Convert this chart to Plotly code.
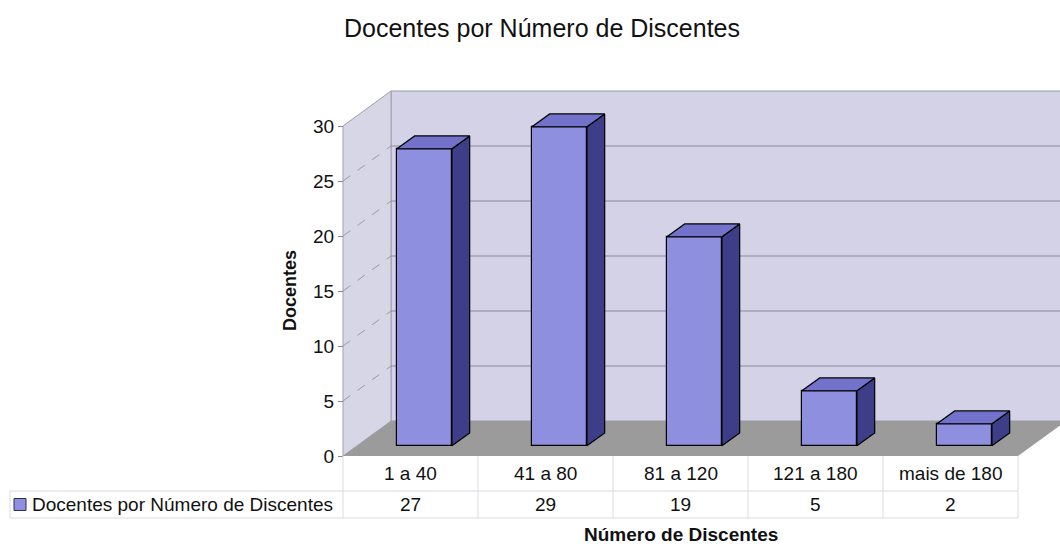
import plotly.graph_objects as go

# ---- data ----
categories = ["1 a 40", "41 a 80", "81 a 120", "121 a 180", "mais de 180"]
docentes = [27, 29, 19, 5, 2]
y_ticks = [0, 5, 10, 15, 20, 25, 30]
series_name = "Docentes por Número de Discentes"

# ---- geometry (category units on x, value units on y) ----
W, H = 1060, 546
PX_X = 135.0          # pixels per category
PX_Y = 11.0           # pixels per unit of value
X0_PX, Y0_PX = 343, 456   # front-left corner of the floor
x_range = [-X0_PX / PX_X, (W - X0_PX) / PX_X]
y_range = [-(H - Y0_PX) / PX_Y, Y0_PX / PX_Y]

DEPTH_X = 48 / PX_X   # full depth of the box
DEPTH_Y = 35 / PX_Y
BAR_F0 = 0.29         # front of bars as fraction of depth
BAR_F1 = 0.66
BAR_W = 55 / PX_X
YMAX = 30
n = len(categories)

FONT = "Liberation Sans, Arial, sans-serif"
WALL = "#d3d2e6"
SIDE_WALL = "#d7d6e6"
FLOOR = "#9b9b9b"
FRONT = "#8f8fe0"
TOP = "#7272ca"
SIDE = "#3e3e88"
GRID = "#8a8a96"
TABLE = "#dcdce4"
TXT = "#111"

fig = go.Figure()
shapes = []


def poly(pts):
    return "M " + " L ".join(f"{x},{y}" for x, y in pts) + " Z"


# back wall
shapes.append(dict(type="path", layer="below", xref="x", yref="y",
                   path=poly([(DEPTH_X, DEPTH_Y), (n + DEPTH_X, DEPTH_Y),
                              (n + DEPTH_X, YMAX + DEPTH_Y), (DEPTH_X, YMAX + DEPTH_Y)]),
                   fillcolor=WALL, line=dict(color="#9a9aaa", width=1)))
# left wall
shapes.append(dict(type="path", layer="below", xref="x", yref="y",
                   path=poly([(0, 0), (DEPTH_X, DEPTH_Y), (DEPTH_X, YMAX + DEPTH_Y), (0, YMAX)]),
                   fillcolor=SIDE_WALL, line=dict(color="#a0a0b0", width=1)))
# floor
shapes.append(dict(type="path", layer="below", xref="x", yref="y",
                   path=poly([(0, 0), (n, 0), (n + DEPTH_X, DEPTH_Y), (DEPTH_X, DEPTH_Y)]),
                   fillcolor=FLOOR, line=dict(width=0)))
# gridlines: back wall and left wall
for v in y_ticks[1:-1]:
    shapes.append(dict(type="line", layer="below", xref="x", yref="y",
                       x0=DEPTH_X, x1=n + DEPTH_X, y0=v + DEPTH_Y, y1=v + DEPTH_Y,
                       line=dict(color=GRID, width=1)))
    shapes.append(dict(type="line", layer="below", xref="x", yref="y",
                       x0=0, x1=DEPTH_X, y0=v, y1=v + DEPTH_Y,
                       line=dict(color="#9a9aa8", width=1, dash="dash")))

# ---- data table ----
ROW1 = -(491 - Y0_PX) / PX_Y   # bottom of the category row
ROW2 = -(518 - Y0_PX) / PX_Y   # bottom of the value row
x_left_table = (10 - X0_PX) / PX_X
for k in range(n + 1):
    shapes.append(dict(type="line", xref="x", yref="y", x0=k, x1=k, y0=0, y1=ROW2,
                       line=dict(color=TABLE, width=1)))
shapes.append(dict(type="line", xref="x", yref="y", x0=x_left_table, x1=n, y0=ROW1, y1=ROW1,
                   line=dict(color=TABLE, width=1)))
shapes.append(dict(type="line", xref="x", yref="y", x0=x_left_table, x1=n, y0=ROW2, y1=ROW2,
                   line=dict(color=TABLE, width=1)))
shapes.append(dict(type="line", xref="x", yref="y", x0=x_left_table, x1=x_left_table,
                   y0=ROW1, y1=ROW2, line=dict(color=TABLE, width=1)))
# legend key
kx0 = (14 - X0_PX) / PX_X
kx1 = (26 - X0_PX) / PX_X
ky_mid = (ROW1 + ROW2) / 2
shapes.append(dict(type="rect", xref="x", yref="y", x0=kx0, x1=kx1,
                   y0=ky_mid - 6 / PX_Y, y1=ky_mid + 6 / PX_Y,
                   fillcolor=FRONT, line=dict(color="#303050", width=1)))

annotations = []
for i, (c, v) in enumerate(zip(categories, docentes)):
    annotations.append(dict(x=i + 0.5, y=ROW1 / 2, xref="x", yref="y", text=c,
                            showarrow=False, font=dict(family=FONT, size=19, color=TXT)))
    annotations.append(dict(x=i + 0.5, y=(ROW1 + ROW2) / 2, xref="x", yref="y", text=str(v),
                            showarrow=False, font=dict(family=FONT, size=19, color=TXT)))
annotations.append(dict(x=(30 - X0_PX) / PX_X, y=ky_mid, xref="x", yref="y",
                        text=series_name, xanchor="left", showarrow=False,
                        font=dict(family=FONT, size=19, color=TXT)))
# axis titles
annotations.append(dict(x=(290 - X0_PX) / PX_X, y=(Y0_PX - 291) / PX_Y, xref="x", yref="y",
                        text="<b>Docentes</b>", textangle=-90, showarrow=False,
                        font=dict(family=FONT, size=18, color=TXT)))
annotations.append(dict(x=2.5, y=-(534 - Y0_PX) / PX_Y, xref="x", yref="y",
                        text="<b>Número de Discentes</b>", showarrow=False,
                        font=dict(family=FONT, size=19, color=TXT)))

# ---- bars ----
bx = BAR_F0 * DEPTH_X
by = BAR_F0 * DEPTH_Y
ddx = (BAR_F1 - BAR_F0) * DEPTH_X
ddy = (BAR_F1 - BAR_F0) * DEPTH_Y
centers = [i + 0.5 + bx for i in range(n)]

fig.add_trace(go.Bar(x=centers, y=docentes, base=[by] * n, width=BAR_W,
                     marker=dict(color=FRONT, line=dict(color="#000", width=1.2)),
                     hoverinfo="skip", showlegend=False))

for cx, v in zip(centers, docentes):
    xl, xr = cx - BAR_W / 2, cx + BAR_W / 2
    top = by + v
    side = [(xr, by), (xr + ddx, by + ddy), (xr + ddx, top + ddy), (xr, top), (xr, by)]
    cap = [(xl, top), (xl + ddx, top + ddy), (xr + ddx, top + ddy), (xr, top), (xl, top)]
    for pts, col in ((side, SIDE), (cap, TOP)):
        fig.add_trace(go.Scatter(x=[p[0] for p in pts], y=[p[1] for p in pts],
                                 mode="lines", fill="toself", fillcolor=col,
                                 line=dict(color="#000", width=1.2),
                                 hoverinfo="skip", showlegend=False))

fig.update_layout(
    width=W, height=H,
    margin=dict(l=0, r=0, t=0, b=0),
    paper_bgcolor="white", plot_bgcolor="white",
    title=dict(text="Docentes por Número de Discentes", x=542 / W, y=1 - 28 / H,
               xanchor="center", yanchor="middle",
               font=dict(family=FONT, size=25, color=TXT)),
    xaxis=dict(range=x_range, visible=False, fixedrange=True),
    yaxis=dict(range=y_range, anchor="free", position=X0_PX / W,
               tickvals=y_ticks, ticktext=[str(t) for t in y_ticks],
               ticks="outside", ticklen=5, tickcolor="#888",
               tickfont=dict(family=FONT, size=19, color=TXT),
               showgrid=False, zeroline=False, showline=False, fixedrange=True),
    shapes=shapes,
    annotations=annotations,
    bargap=0,
)

fig.write_html("out.html")
